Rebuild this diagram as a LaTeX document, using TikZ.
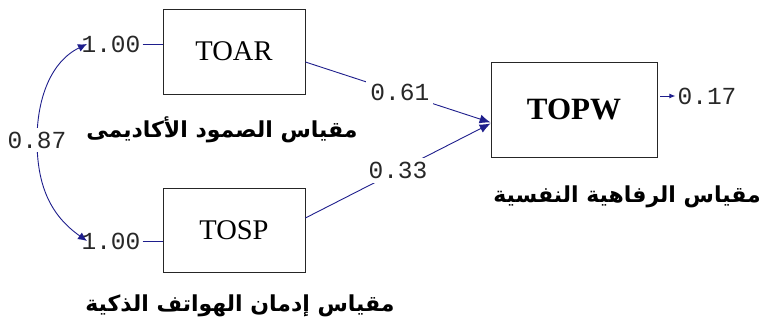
\documentclass[tikz,border=0pt]{standalone}
\usepackage{fontspec}
\setmainfont{Liberation Serif}
\setmonofont{Liberation Mono}
\newfontfamily\arabicfont[Script=Arabic]{DejaVu Sans}
\TeXXeTstate=1
\usetikzlibrary{arrows.meta,calc}
\definecolor{pathblue}{RGB}{30,30,140}
\definecolor{numgray}{RGB}{40,40,40}
\tikzset{
  varbox/.style={draw=black!85, line width=0.8pt, font=\fontsize{28.5}{30}\selectfont, inner sep=0pt},
  coef/.style={font=\ttfamily\fontsize{24.5}{26}\selectfont, text=numgray, inner sep=2pt},
  coefgap/.style={coef, fill=white, inner sep=4pt},
  link/.style={draw=pathblue, line width=0.9pt},
  tip/.style={-{Latex[length=11pt,width=9pt]}},
  smalltip/.style={-{Latex[length=6pt,width=5pt]}},
  arlabel/.style={font=\arabicfont\bfseries\fontsize{22}{25}\selectfont, inner sep=0pt}
}
\begin{document}
\begin{tikzpicture}[x=1pt,y=-1pt]
\useasboundingbox (0,0) rectangle (763,328);

% observed variables
\node[varbox, minimum width=142pt, minimum height=85pt] (TOAR) at (234,51.5) {TOAR};
\node[varbox, minimum width=142pt, minimum height=84pt] (TOSP) at (234,230) {TOSP};
\node[varbox, minimum width=166pt, minimum height=95pt, font=\bfseries\fontsize{31}{33}\selectfont] (TOPW) at (574,109.5) {TOPW};

% variances of the exogenous variables
\node[coef] (varA) at (111,44) {1.00};
\node[coef] (varS) at (111,241) {1.00};
\draw[link] (varA.east) -- (TOAR.west |- varA.east);
\draw[link] (varS.east) -- (TOSP.west |- varS.east);

% covariance between TOAR and TOSP
\coordinate (endA) at (87,44);
\coordinate (endS) at (87,241);
\coordinate (midC) at (37,140);
\draw[link, {Latex[length=9pt,width=8pt]}-{Latex[length=9pt,width=8pt]}]
  (endA) .. controls (50,62) and (37,100) .. (midC)
         .. controls (37,185) and (50,215) .. (endS);
\node[coefgap] (cov) at (midC) {0.87};

% structural paths
\draw[link, tip] ([yshift=-10.5pt]TOAR.east) -- node[coefgap, pos=0.51] (pA) {0.61} ([yshift=-13pt]TOPW.west);
\draw[link, tip] ([yshift=12pt]TOSP.east) -- node[coefgap, pos=0.5] (pS) {0.33} ([yshift=-14pt]TOPW.west);

% residual variance of TOPW
\node[coef] (resW) at (707,96) {0.17};
\draw[link, smalltip, shorten <=3pt] (TOPW.east |- resW.west) -- (resW.west);

% scale names
\node[arlabel] (labA) at (222,130) {\beginR مقياس الصمود الأكاديمى\endR};
\node[arlabel, anchor=east] (labW) at (761,197) {\beginR مقياس الرفاهية النفسية\endR};
\node[arlabel] (labS) at (240,306) {\beginR مقياس إدمان الهواتف الذكية\endR};
\end{tikzpicture}
\end{document}
